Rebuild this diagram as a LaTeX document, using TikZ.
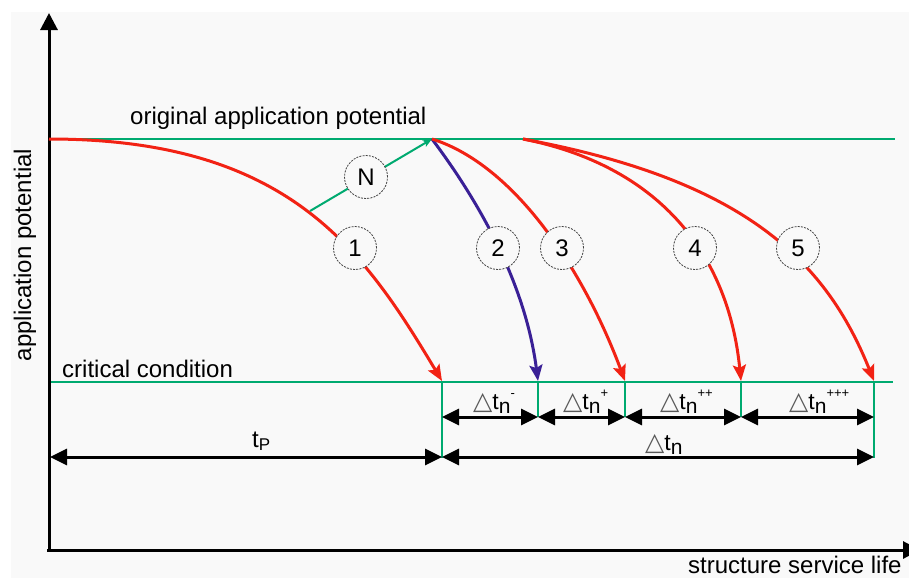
\documentclass[tikz,border=0pt]{standalone}
\usepackage{fontspec}
\setmainfont{Liberation Sans}
\newfontfamily\dejavu{DejaVu Sans}
\usetikzlibrary{arrows.meta}
\definecolor{grn}{RGB}{0,170,112}
\definecolor{rd}{RGB}{242,34,20}
\definecolor{blu}{RGB}{58,32,150}
\definecolor{bg}{RGB}{249,249,249}
\newcommand{\tri}{{\dejavu\fontsize{25}{25}\selectfont\color{black!65}△}}
\newcommand{\dtlab}[1]{\tri t\raisebox{-4pt}{\fontsize{21}{21}\selectfont n}\raisebox{12pt}{\fontsize{13}{13}\selectfont #1}}
\begin{document}
\begin{tikzpicture}[x=1pt,y=-1pt,
  every node/.style={font=\fontsize{24}{28}\selectfont, inner sep=0pt},
  axis/.style={line width=3pt, -{Triangle[length=17pt,width=17pt]}},
  dim/.style={line width=3pt, {Triangle[length=17pt,width=16pt]}-{Triangle[length=17pt,width=16pt]}},
  level/.style={grn, line width=2pt},
  tickline/.style={grn, line width=1.5pt},
  decay/.style={rd, line width=3pt, -{Stealth[length=16pt,width=13pt,inset=3pt]}},
  renew/.style={grn, line width=2pt, -{Stealth[length=9pt,width=7pt,inset=2pt]}},
  num/.style={circle, draw=black!75, dash pattern=on 2pt off 1.2pt, line width=0.8pt, fill=bg, minimum size=43pt, font=\fontsize{24}{28}\selectfont},
  lab/.style={anchor=base west, font=\fontsize{23}{27}\selectfont},
]
\useasboundingbox (0,0) rectangle (909,581);
\fill[bg] (11,12) rectangle (909,578);

% coordinates
\coordinate (O) at (49,551);
\coordinate (Ytop) at (49,13);
\coordinate (Xend) at (920,550);
\coordinate (A0) at (49,139);
\coordinate (P) at (432,139);
\coordinate (Q) at (523,139);
\coordinate (Aend) at (895,139);
\coordinate (C0) at (49,382);
\coordinate (Cend) at (893,382);
\coordinate (C1) at (442,382);
\coordinate (C2) at (538,382);
\coordinate (C3) at (625,382);
\coordinate (C4) at (741,382);
\coordinate (C5) at (874,382);
\coordinate (E1) at (442,381);
\coordinate (E2) at (538,381);
\coordinate (E3) at (625,381);
\coordinate (E4) at (741,381);
\coordinate (E5) at (874,381);
\coordinate (R) at (310,211);
\coordinate (D1) at (442,417);
\coordinate (D2) at (538,417);
\coordinate (D3) at (625,417);
\coordinate (D4) at (741,417);
\coordinate (D5) at (874,417);
\coordinate (B0) at (50,457);
\coordinate (B1) at (442,457);
\coordinate (B5) at (874,457);
\coordinate (T1) at (442,458);
\coordinate (T5) at (874,458);

% levels
\draw[level] (A0) -- (Aend);
\draw[level] (C0) -- (Cend);
\draw[tickline] (C1) -- (T1);
\draw[tickline] (C2) -- (D2);
\draw[tickline] (C3) -- (D3);
\draw[tickline] (C4) -- (D4);
\draw[tickline] (C5) -- (T5);

% axes
\draw[axis] (O) -- (Ytop);
\draw[axis] (47,550) -- (Xend);

% curves
\draw[decay] (A0) .. controls (290,139) and (364,251) .. (E1);
\draw[renew] (R) -- (P);
\draw[decay, blu] (P) .. controls (477,199) and (525,281) .. (E2);
\draw[decay] (P) .. controls (515,165) and (584,271) .. (E3);
\draw[decay] (Q) .. controls (655,165) and (728,250) .. (E4);
\draw[decay] (Q) .. controls (745,180) and (826,261) .. (E5);

% circles
\node[num] (nN) at (366,177) {N};
\node[num] (n1) at (355,248) {1};
\node[num] (n2) at (498,248) {2};
\node[num] (n3) at (562,248) {3};
\node[num] (n4) at (695,248) {4};
\node[num] (n5) at (798,248) {5};

% dimensions
\draw[dim] (D1) -- (D2);
\draw[dim] (D2) -- (D3);
\draw[dim] (D3) -- (D4);
\draw[dim] (D4) -- (D5);
\draw[dim] (B0) -- (B1);
\draw[dim] (B1) -- (B5);

% labels
\node[anchor=base west] (lorig) at (130,124) {original application potential};
\node[anchor=base west] (lcrit) at (62,377) {critical condition};
\node[anchor=base west] (lx) at (688,573) {structure service life};
\node[anchor=base, rotate=90] (ly) at (31,255) {application potential};
\node[lab] (l1) at (473,409) {\dtlab{-}};
\node[lab] (l2) at (563,409) {\dtlab{+}};
\node[lab] (l3) at (660,409) {\dtlab{++}};
\node[lab] (l4) at (789,409) {\dtlab{+++}};
\node[lab] (l5) at (645,450) {\tri t\raisebox{-4pt}{\fontsize{21}{21}\selectfont n}};
\node[anchor=base west] (l6) at (252,447) {t\raisebox{-3pt}{\fontsize{17}{17}\selectfont P}};
\end{tikzpicture}
\end{document}
